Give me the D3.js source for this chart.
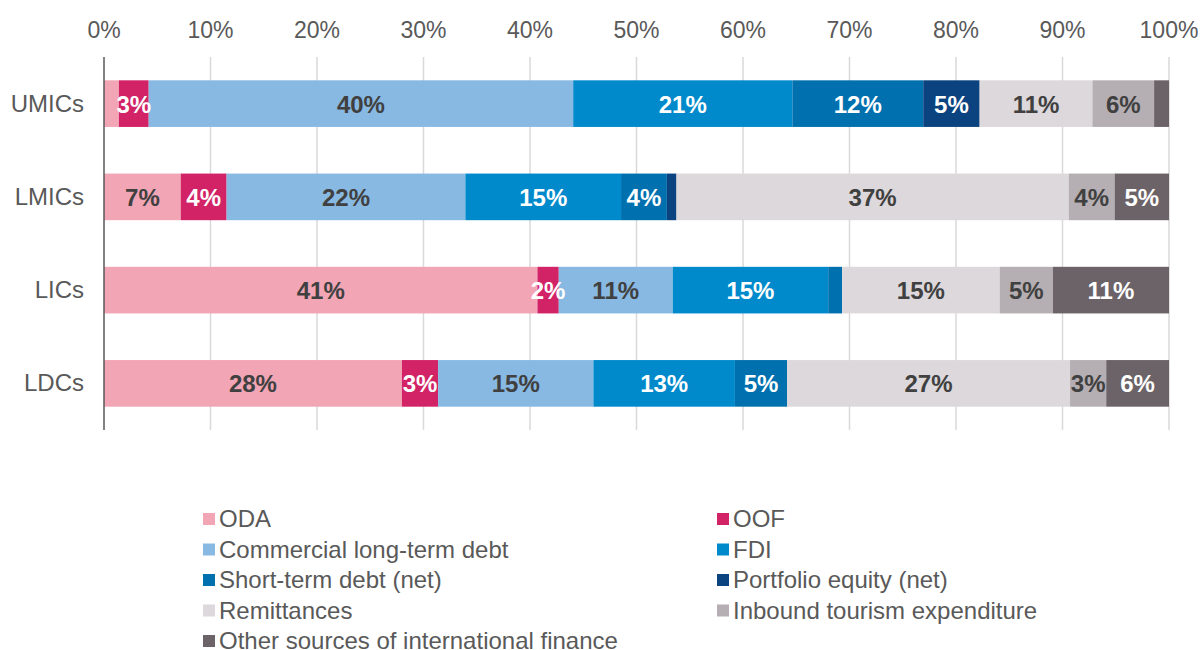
<!DOCTYPE html>
<meta charset="utf-8">
<body style="margin:0;background:#fff">
<style>
  text { font-family: Arial, "Liberation Sans", sans-serif; }
  .tick-label { fill: #595959; font-size: 23px; }
  .cat-label, .legend-label { fill: #595959; font-size: 24px; }
  .bar-label { font-size: 24px; font-weight: bold; text-anchor: middle; }
</style>
<svg width="1204" height="650"></svg>
<script src="https://d3js.org/d3.v7.min.js"></script>
<script>

// Data
var categories = ["UMICs", "LMICs", "LICs", "LDCs"];
var seriesNames = ["ODA", "OOF", "Commercial long-term debt", "FDI", "Short-term debt (net)",
  "Portfolio equity (net)", "Remittances", "Inbound tourism expenditure",
  "Other sources of international finance"];
var oda         = [1.4, 7.2, 40.7, 28.0];
var oof         = [2.8, 4.3, 2.0, 3.4];
var commercial  = [39.9, 22.4, 10.7, 14.6];
var fdi         = [20.6, 14.6, 14.6, 13.3];
var shortTerm   = [12.3, 4.3, 1.3, 4.9];
var portfolio   = [5.3, 0.9, 0.0, 0.0];
var remittances = [10.6, 36.8, 14.8, 26.6];
var tourism     = [5.8, 4.3, 5.0, 3.4];
var other       = [1.4, 5.1, 10.9, 5.9];
var tickLabels  = ["0%", "10%", "20%", "30%", "40%", "50%", "60%", "70%", "80%", "90%", "100%"];

var colors = ["#f2a5b5", "#d12366", "#88b9e3", "#0089cb", "#0070af", "#0b4380", "#dcd8db", "#b5aeb2", "#6b6367"];
var labelColors = ["#404040", "#fff", "#404040", "#fff", "#fff", "#fff", "#404040", "#404040", "#fff"];

var seriesValues = [oda, oof, commercial, fdi, shortTerm, portfolio, remittances, tourism, other];

// table for stack
var table = categories.map(function (c, i) {
  var row = { cat: c };
  seriesNames.forEach(function (s, j) { row[s] = seriesValues[j][i]; });
  return row;
});

var svg = d3.select("svg");

var x = d3.scaleLinear().domain([0, 1]).range([104, 1169]);
var y = d3.scaleBand().domain(categories).range([57, 430])
    .paddingInner(0.5).paddingOuter(0.25);

// gridlines
svg.append("g")
  .selectAll("line")
  .data(d3.range(1, 11).map(function (d) { return d / 10; }))
  .enter().append("line")
    .attr("x1", function (d) { return x(d); })
    .attr("x2", function (d) { return x(d); })
    .attr("y1", 57).attr("y2", 430)
    .attr("stroke", "#d9d9d9")
    .attr("stroke-width", 1.5);

// top tick labels
svg.append("g")
  .selectAll("text")
  .data(tickLabels)
  .enter().append("text")
    .attr("class", "tick-label")
    .attr("x", function (d, i) { return x(i / 10); })
    .attr("y", 38)
    .attr("text-anchor", "middle")
    .text(function (d) { return d; });

// stacked bars
var stack = d3.stack().keys(seriesNames).offset(d3.stackOffsetExpand);
var layers = stack(table);

var layer = svg.append("g")
  .selectAll("g")
  .data(layers)
  .enter().append("g")
    .attr("fill", function (d, i) { return colors[i]; });

layer.selectAll("rect")
  .data(function (d) { return d; })
  .enter().append("rect")
    .attr("x", function (d) { return x(d[0]); })
    .attr("y", function (d) { return y(d.data.cat); })
    .attr("width", function (d) { return x(d[1]) - x(d[0]); })
    .attr("height", y.bandwidth());

// labels
layers.forEach(function (l, si) {
  svg.append("g")
    .selectAll("text")
    .data(l.filter(function (d) { return Math.round(d.data[l.key]) >= 2; }))
    .enter().append("text")
      .attr("class", "bar-label")
      .attr("fill", labelColors[si])
      .attr("x", function (d) { return (x(d[0]) + x(d[1])) / 2; })
      .attr("y", function (d) { return y(d.data.cat) + y.bandwidth() / 2 + 9; })
      .text(function (d) { return Math.round(d.data[l.key]) + "%"; });
});

// category axis line
svg.append("line")
  .attr("x1", x(0)).attr("x2", x(0))
  .attr("y1", 57).attr("y2", 430)
  .attr("stroke", "#595959")
  .attr("stroke-width", 1.5);

svg.append("g")
  .selectAll("text")
  .data(categories)
  .enter().append("text")
    .attr("class", "cat-label")
    .attr("x", 84)
    .attr("y", function (d) { return y(d) + y.bandwidth() / 2 + 8; })
    .attr("text-anchor", "end")
    .text(function (d) { return d; });

// Legend
var legend = svg.append("g");
var item = legend.selectAll("g")
  .data(seriesNames)
  .enter().append("g")
    .attr("transform", function (d, i) {
      return "translate(" + (i % 2 === 0 ? 203 : 717) + "," + (519 + Math.floor(i / 2) * 30.5) + ")";
    });
item.append("rect")
  .attr("x", 0).attr("y", -6)
  .attr("width", 12).attr("height", 12)
  .attr("fill", function (d, i) { return colors[i]; });
item.append("text")
  .attr("class", "legend-label")
  .attr("x", 16)
  .attr("y", 8)
  .text(function (d) { return d; });

</script>
</body>
